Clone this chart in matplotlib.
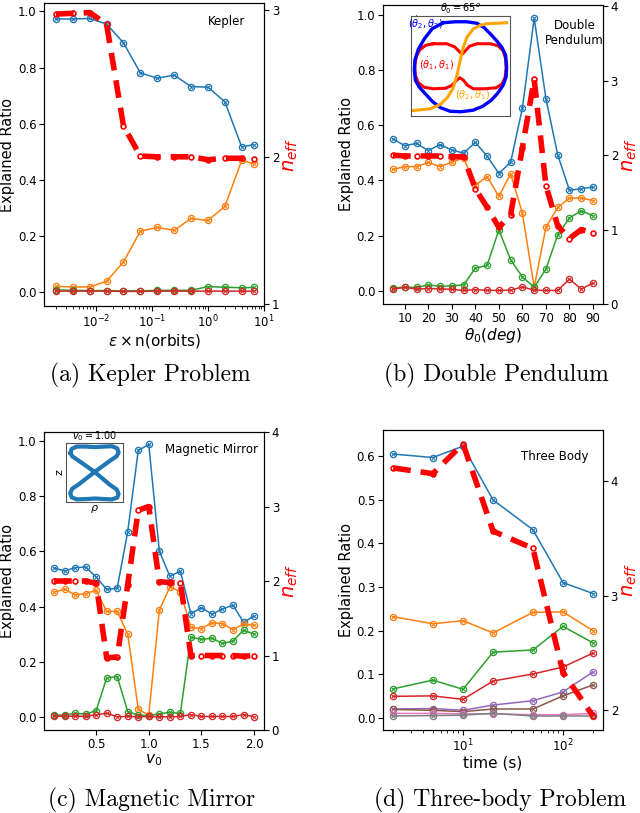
import matplotlib
matplotlib.use("Agg")
import matplotlib.pyplot as plt

# (a) Kepler
kep_x = [1/512, 1/256, 1/128, 1/64, 1/32, 1/16, 1/8, 1/4, 1/2, 1, 2, 4, 6.5]
kep_comp = [
    [0.973, 0.973, 0.975, 0.955, 0.888, 0.781, 0.762, 0.773, 0.732, 0.730, 0.678, 0.517, 0.525],
    [0.020, 0.018, 0.018, 0.038, 0.107, 0.217, 0.230, 0.220, 0.262, 0.255, 0.305, 0.469, 0.457],
    [0.008, 0.006, 0.005, 0.005, 0.004, 0.004, 0.006, 0.006, 0.006, 0.019, 0.017, 0.015, 0.016],
    [0.003, 0.003, 0.003, 0.003, 0.002, 0.002, 0.003, 0.003, 0.003, 0.003, 0.003, 0.003, 0.003],
]
kep_neff = [2.97, 2.975, 2.98, 2.90, 2.21, 2.005, 2.0, 2.0, 2.0, 1.98, 1.99, 1.99, 1.985]

# (b) Double pendulum
dp_x = [5, 10, 15, 20, 25, 30, 35, 40, 45, 50, 55, 60, 65, 70, 75, 80, 85, 90]
dp_comp = [
    [0.550, 0.526, 0.534, 0.508, 0.530, 0.510, 0.499, 0.538, 0.488, 0.425, 0.466, 0.662,
     0.988, 0.696, 0.493, 0.364, 0.370, 0.376],
    [0.440, 0.450, 0.450, 0.465, 0.450, 0.466, 0.481, 0.382, 0.414, 0.342, 0.424, 0.281,
     0.013, 0.230, 0.302, 0.336, 0.336, 0.327],
    [0.010, 0.013, 0.012, 0.021, 0.016, 0.018, 0.021, 0.082, 0.092, 0.221, 0.112, 0.050,
     0.013, 0.078, 0.203, 0.264, 0.290, 0.272],
    [0.006, 0.012, 0.006, 0.008, 0.007, 0.005, 0.001, 0.004, 0.002, 0.001, 0.002, 0.014,
     0.002, 0.001, 0.001, 0.042, 0.006, 0.028],
]
dp_neff = [2.0, 1.99, 1.99, 1.99, 1.99, 1.98, 1.98, 1.55, 1.30, 1.03, 1.20, 2.1,
           3.02, 1.59, 1.05, 0.88, 1.0, 0.96]

# inset (b): trajectories at theta0 = 65 deg
dp_blue_u = [-0.35, -0.10, 0.125, 0.33, 0.48, 0.60, 0.73, 0.84, 0.91, 0.93, 0.92, 0.86,
             0.75, 0.62, 0.45, 0.25, 0.0, -0.21, -0.40, -0.56, -0.70, -0.83, -0.91,
             -0.93, -0.92, -0.85, -0.72, -0.57, -0.35]
dp_blue_v = [0.87, 0.89, 0.89, 0.86, 0.77, 0.65, 0.51, 0.37, 0.22, 0.0, -0.21, -0.38,
             -0.54, -0.68, -0.80, -0.88, -0.91, -0.90, -0.83, -0.71, -0.56, -0.42, -0.28,
             -0.08, 0.12, 0.34, 0.56, 0.75, 0.87]
dp_red_u = [-0.55, -0.28, -0.12, -0.03, 0.03, 0.09, 0.18, 0.33, 0.60, 0.76, 0.86, 0.91, 0.92,
            0.90, 0.84, 0.72, 0.50, 0.26, 0.14, 0.06, -0.01, -0.08, -0.17, -0.30, -0.55,
            -0.73, -0.85, -0.91, -0.92, -0.89, -0.82, -0.70, -0.55]
dp_red_v = [0.45, 0.45, 0.39, 0.30, 0.24, 0.30, 0.40, 0.45, 0.45, 0.41, 0.31, 0.15, -0.05,
            -0.22, -0.35, -0.43, -0.45, -0.45, -0.38, -0.28, -0.23, -0.28, -0.38, -0.44, -0.45,
            -0.42, -0.33, -0.18, 0.02, 0.20, 0.33, 0.42, 0.45]
dp_orange_u = [-1.0, -0.61, -0.40, -0.26, -0.15, -0.07, -0.01, 0.05, 0.13, 0.26, 0.40, 0.53, 0.93]
dp_orange_v = [-0.89, -0.85, -0.76, -0.62, -0.44, -0.18, 0.10, 0.36, 0.58, 0.75, 0.82, 0.85, 0.87]

# (c) Magnetic mirror
mm_x = [0.1, 0.2, 0.3, 0.4, 0.5, 0.6, 0.7, 0.8, 0.9, 1.0,
        1.1, 1.2, 1.3, 1.4, 1.5, 1.6, 1.7, 1.8, 1.9, 2.0]
mm_comp = [
    [0.540, 0.529, 0.541, 0.543, 0.507, 0.462, 0.467, 0.672, 0.966, 0.988,
     0.601, 0.510, 0.528, 0.374, 0.396, 0.372, 0.391, 0.405, 0.343, 0.365],
    [0.452, 0.463, 0.442, 0.447, 0.459, 0.382, 0.382, 0.300, 0.027, 0.006,
     0.386, 0.471, 0.454, 0.324, 0.320, 0.341, 0.338, 0.316, 0.336, 0.332],
    [0.005, 0.007, 0.012, 0.010, 0.022, 0.141, 0.146, 0.019, 0.006, 0.004,
     0.011, 0.016, 0.012, 0.289, 0.281, 0.285, 0.266, 0.275, 0.314, 0.300],
    [0.003, 0.001, 0.003, 0.001, 0.007, 0.013, 0.000, 0.001, 0.000, 0.001,
     0.000, 0.000, 0.001, 0.008, 0.001, 0.001, 0.001, 0.001, 0.008, 0.000],
]
mm_neff = [2.0, 2.0, 2.0, 2.0, 1.97, 0.97, 0.98, 1.95, 2.95, 3.0,
           1.99, 1.98, 1.98, 1.0, 1.0, 1.0, 1.0, 1.0, 0.99, 1.0]

# inset (c): orbit in (rho, z) at v0 = 1.00
mm_orb_u = [-0.84, -0.80, -0.62, -0.30, 0.01, 0.35, 0.62, 0.80, 0.85, 0.78, 0.55, 0.01,
            -0.55, -0.78, -0.85, -0.80, -0.62, -0.30, 0.01, 0.35, 0.62, 0.80, 0.85,
            0.78, 0.55, 0.01, -0.55, -0.78, -0.84]
mm_orb_v = [0.66, 0.80, 0.88, 0.88, 0.86, 0.88, 0.89, 0.82, 0.68, 0.55, 0.40, 0.02,
            -0.40, -0.55, -0.70, -0.84, -0.91, -0.90, -0.88, -0.90, -0.91, -0.85, -0.72,
            -0.57, -0.42, 0.02, 0.40, 0.55, 0.66]

# (d) Three body
tb_x = [2, 5, 10, 20, 50, 100, 200]
tb_comp = [
    [0.604, 0.596, 0.622, 0.499, 0.431, 0.310, 0.285],
    [0.232, 0.216, 0.223, 0.195, 0.242, 0.243, 0.200],
    [0.067, 0.087, 0.066, 0.151, 0.156, 0.210, 0.172],
    [0.050, 0.051, 0.043, 0.085, 0.101, 0.117, 0.149],
    [0.021, 0.022, 0.018, 0.030, 0.040, 0.060, 0.106],
    [0.020, 0.018, 0.015, 0.021, 0.021, 0.051, 0.076],
    [0.011, 0.011, 0.010, 0.010, 0.008, 0.008, 0.011],
    [0.005, 0.006, 0.007, 0.011, 0.005, 0.005, 0.005],
]
tb_neff = [4.11, 4.06, 4.32, 3.56, 3.41, 2.33, 1.95]

colors = ['C0', 'C1', 'C2', 'C3', 'C4', 'C5', 'C6', 'C7']
TICK = 8.5


def draw_panel(rect, x, comps, neff, ylim, ylim2, yticks2, xlabel, name, name_xy, logx=False):
    ax = fig.add_axes(rect)
    for i, y in enumerate(comps):
        ax.plot(x, y, '-', color=colors[i], lw=1.1, marker='o', ms=4.5, mfc='none', mew=0.9)
        ax.plot(x, y, 'x', color=colors[i], ms=2.8, mew=0.7)
    if logx:
        ax.set_xscale('log')
    ax.set_ylim(*ylim)
    ax.set_ylabel('Explained Ratio', fontsize=10.5, labelpad=2)
    ax.set_xlabel(xlabel, fontsize=11, labelpad=1)
    ax.tick_params(labelsize=TICK, pad=2)
    ax.text(name_xy[0], name_xy[1], name, transform=ax.transAxes, fontsize=8.5,
            ha='center', va='center')
    ax2 = ax.twinx()
    ax2.plot(x, neff, color='red', lw=4, dashes=(3.2, 1.8), marker='o', ms=3.5,
             mfc='none', mew=1.2)
    ax2.set_ylim(*ylim2)
    ax2.set_yticks(yticks2)
    ax2.tick_params(labelsize=TICK, pad=2)
    ax2.set_ylabel(r'$n_{eff}$', color='red', fontsize=14, labelpad=1)
    return ax, ax2


fig = plt.figure(figsize=(6.4, 8.13), dpi=100)

# (a)
axa, axa2 = draw_panel([0.0688, 0.6236, 0.3438, 0.3727], kep_x, kep_comp, kep_neff,
                       (-0.05, 1.03), (0.986, 3.045), [1, 2, 3],
                       r'$\varepsilon\times$n(orbits)', 'Kepler', (0.83, 0.94), logx=True)
axa.set_xlim(1.2e-3, 10)

# (b)
axb, axb2 = draw_panel([0.5984, 0.6261, 0.3438, 0.3678], dp_x, dp_comp, dp_neff,
                       (-0.048, 1.036), (0, 4.02), [0, 1, 2, 3, 4],
                       r'$\theta_0(deg)$', 'Double\nPendulum', (0.87, 0.905))
axb.set_xlim(0.75, 94.25)
axb.set_xticks([10, 20, 30, 40, 50, 60, 70, 80, 90])

insb = fig.add_axes([0.642, 0.857, 0.155, 0.123])
insb.plot(dp_red_u, dp_red_v, color='red', lw=2.2, solid_joinstyle='round')
insb.plot(dp_blue_u, dp_blue_v, color='blue', lw=2.4, solid_joinstyle='round')
insb.plot(dp_orange_u, dp_orange_v, color='orange', lw=2.2, solid_joinstyle='round')
insb.set_xlim(-1, 1)
insb.set_ylim(-1, 1)
insb.set_xticks([])
insb.set_yticks([])
for s in insb.spines.values():
    s.set_color('#555555')
insb.set_title(r'$\theta_0=65^o$', fontsize=7, pad=1)
insb.text(0.15, 0.94, r'$(\dot{\theta}_2,\theta_2)$', color='blue', fontsize=7,
          transform=insb.transAxes, ha='center', va='center')
insb.text(0.26, 0.53, r'$(\dot{\theta}_1,\theta_1)$', color='red', fontsize=7,
          transform=insb.transAxes, ha='center', va='center')
insb.text(0.62, 0.21, r'$(\theta_2,\theta_1)$', color='orange', fontsize=7,
          transform=insb.transAxes, ha='center', va='center')

# (c)
axc, axc2 = draw_panel([0.0688, 0.1021, 0.3438, 0.3665], mm_x, mm_comp, mm_neff,
                       (-0.048, 1.033), (0, 4), [0, 1, 2, 3, 4],
                       r'$v_0$', 'Magnetic Mirror', (0.76, 0.94))
axc.set_xlim(0.005, 2.095)
axc.set_xticks([0.5, 1.0, 1.5, 2.0])

insc = fig.add_axes([0.103, 0.3825, 0.089, 0.0726])
insc.plot(mm_orb_u, mm_orb_v, color='C0', lw=3, solid_joinstyle='round')
insc.set_xlim(-1, 1)
insc.set_ylim(-1, 1)
insc.set_xticks([])
insc.set_yticks([])
for s in insc.spines.values():
    s.set_color('#555555')
insc.set_title(r'$v_0=1.00$', fontsize=7, pad=1)
insc.set_xlabel(r'$\rho$', fontsize=8, labelpad=1)
insc.set_ylabel('z', fontsize=8, labelpad=1)

# (d)
axd, axd2 = draw_panel([0.5984, 0.1021, 0.3438, 0.369], tb_x, tb_comp, tb_neff,
                       (-0.027, 0.659), (1.83, 4.44), [2, 3, 4],
                       'time (s)', 'Three Body', (0.78, 0.91), logx=True)
axd.set_xlim(10 ** 0.2, 10 ** 2.4)

# captions
cap = dict(fontsize=17, family='cmr10', ha='center', va='center')
fig.text(150 / 640, 1 - 375 / 813, '(a) Kepler Problem', **cap)
fig.text(496 / 640, 1 - 375 / 813, '(b) Double Pendulum', **cap)
fig.text(152 / 640, 1 - 800 / 813, '(c) Magnetic Mirror', **cap)
fig.text(500 / 640, 1 - 800 / 813, '(d) Three-body Problem', **cap)

fig.savefig('out.png', dpi=100)
